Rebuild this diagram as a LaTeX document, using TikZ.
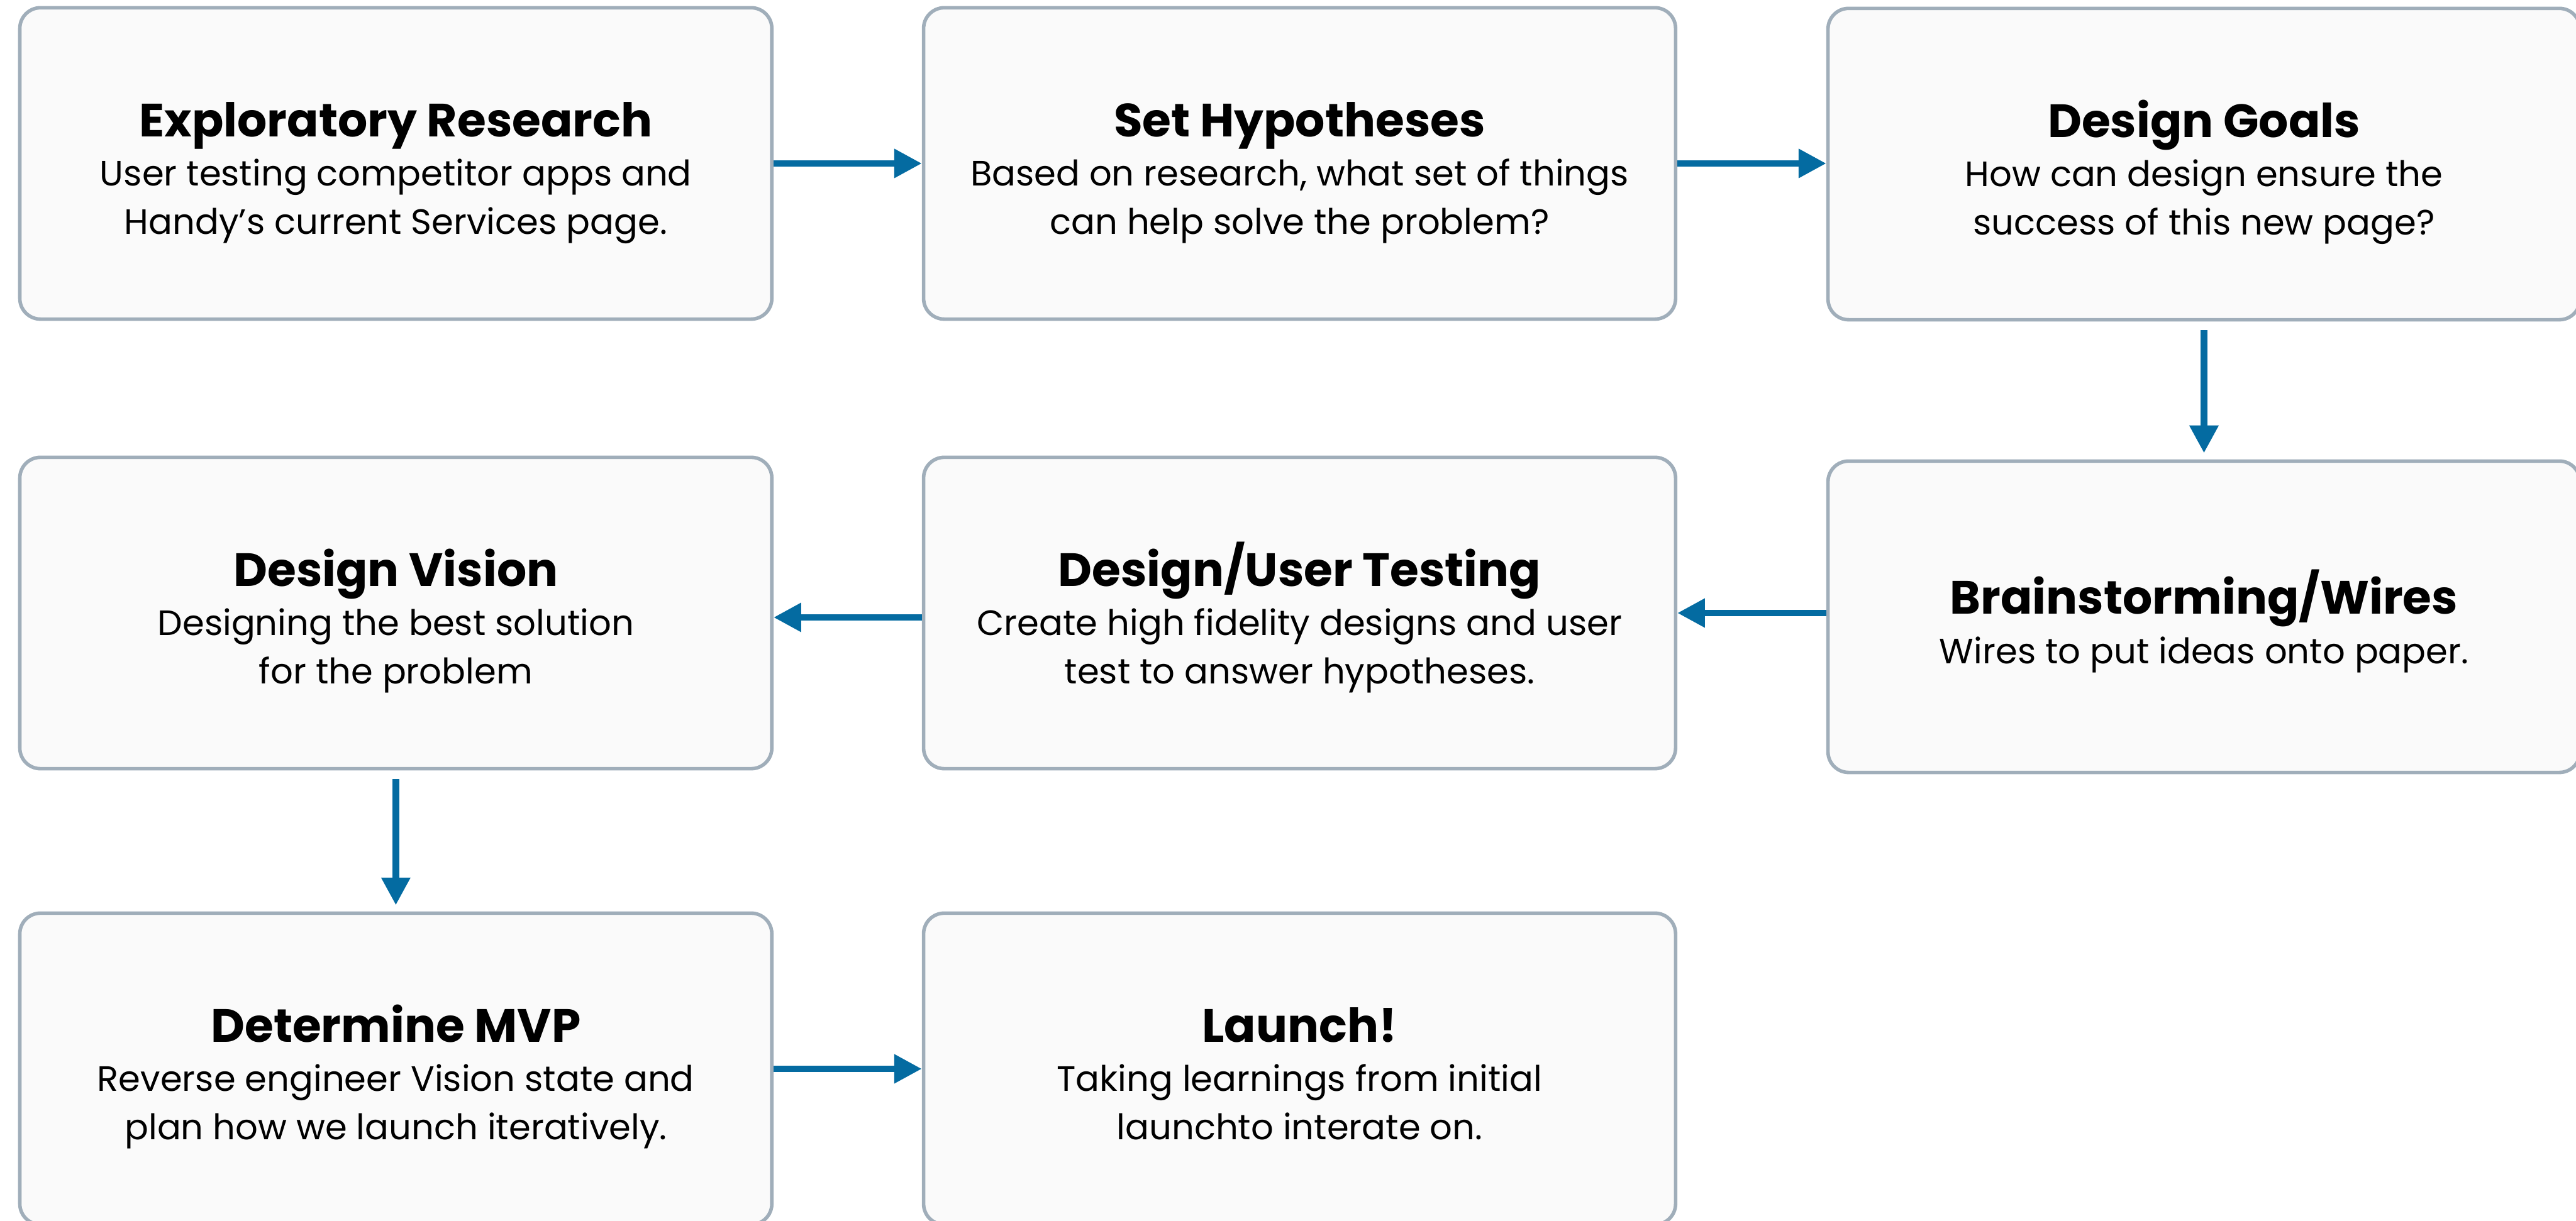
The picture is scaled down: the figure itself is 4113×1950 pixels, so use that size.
\documentclass[tikz,border=0pt]{standalone}
\usepackage{fontspec}
\setmainfont{Poppins}
\usetikzlibrary{arrows.meta,positioning}
\definecolor{boxline}{HTML}{A0AEBA}
\definecolor{boxfill}{HTML}{FAFAFA}
\definecolor{flowblue}{HTML}{046BA1}
\newcommand{\steptitle}[1]{{\fontsize{21.2}{22}\selectfont\bfseries\rule{0pt}{0.92cm}#1}\\[0.6pt]}

\begin{document}
\begin{tikzpicture}[x=0.01cm, y=-0.01cm]
	\tikzset{
	    stepbox/.style= {draw=boxline, fill=boxfill, line width=1.6pt, rounded corners=0.33cm,
	        minimum width=12cm, minimum height=4.97cm, inner sep=0pt, align=center,
	        font=\fontsize{16}{21.9}\selectfont, execute at end node={\rule[-0.22cm]{0pt}{0pt}}},
	    flow/.style= {-{Triangle[length=0.44cm, width=0.44cm]}, draw=flowblue, line width=3pt},
	}
	\useasboundingbox (0,0) rectangle (4113,1950);
	
	\node[stepbox] (explore) at (632, 261) {\steptitle{Exploratory Research}User testing competitor apps and\\Handy’s current Services page.};
	\node[stepbox] (hypo) at (2075, 261) {\steptitle{Set Hypotheses}Based on research, what set of things\\can help solve the problem?};
	\node[stepbox] (goals) at (3519, 262) {\steptitle{Design Goals}How can design ensure the\\success of this new page?};
	
	\node[stepbox] (vision) at (632, 979) {\steptitle{Design Vision}Designing the best solution\\for the problem};
	\node[stepbox] (usertest) at (2075, 979) {\steptitle{Design/User Testing}Create high fidelity designs and user\\test to answer hypotheses.};
	\node[stepbox] (brain) at (3519, 985) {\steptitle{Brainstorming/Wires}Wires to put ideas onto paper.};
	
	\node[stepbox] (mvp) at (632, 1707) {\steptitle{Determine MVP}Reverse engineer Vision state and\\plan how we launch iteratively.};
	\node[stepbox] (launch) at (2075, 1707) {\steptitle{Launch!}Taking learnings from initial\\launchto interate on.};
	
	\draw[flow] (explore.east) -- (hypo.west);
	\draw[flow] (hypo.east) -- (hypo.east -| goals.west);
	\draw[flow, shorten <=0.14cm, shorten >=0.1cm] (goals.south) -- (brain.north);
	\draw[flow] ([yshift=0.06cm]brain.west) -- ([yshift=0.06cm]brain.west -| usertest.east);
	\draw[flow] ([yshift=-0.07cm]usertest.west) -- ([yshift=-0.07cm]usertest.west -| vision.east);
	\draw[flow, shorten <=0.14cm, shorten >=0.1cm] (vision.south) -- (mvp.north);
	\draw[flow] (mvp.east) -- (launch.west);
\end{tikzpicture}
\end{document}
